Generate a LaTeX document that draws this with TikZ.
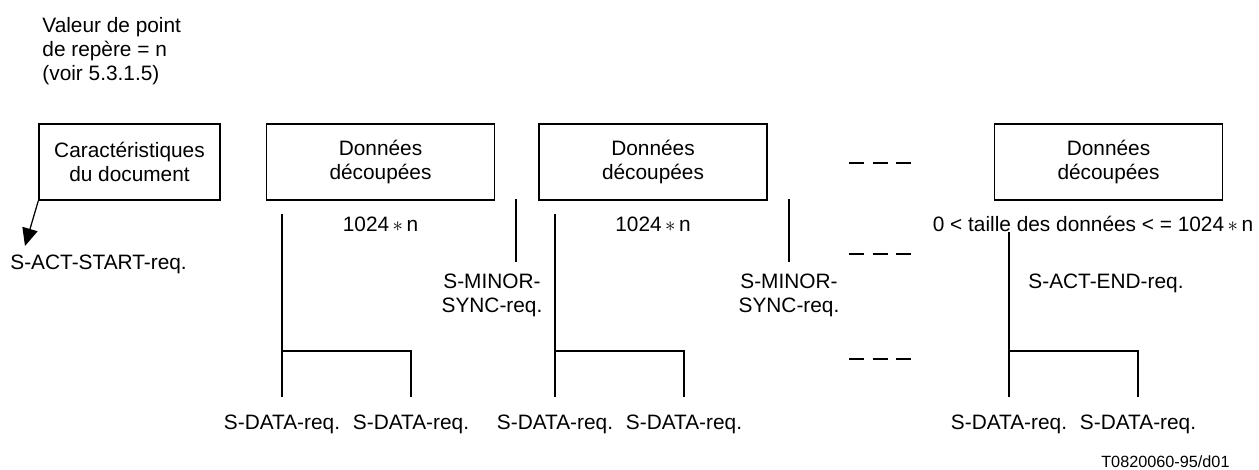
\documentclass[tikz,border=0pt]{standalone}
\usepackage{fontspec}
\setmainfont{Liberation Sans}
\usetikzlibrary{arrows.meta}

\newcommand{\px}{0.48pt}

\begin{document}
\begin{tikzpicture}[x=\px, y=-\px, font=\fontsize{10}{11.5}\selectfont]
    \tikzstyle{every node}=[inner sep=0pt]
    \tikzstyle{bloc}=[draw,line width=0.65pt,minimum width=228*\px,minimum height=76*\px,align=center]
    \tikzstyle{trait}=[line width=1pt]
    \tikzstyle{fin}=[line width=0.5pt]
    \tikzstyle{req}=[anchor=north,inner ysep=8.6pt]
    \tikzstyle{sync}=[anchor=north,inner ysep=5.5pt,align=center]
    \tikzstyle{tirets}=[line width=1pt,dash pattern=on 7.2pt off 4.1pt]

    \useasboundingbox (0,0) rectangle (1259,469);

    \node[anchor=north west,align=left] (repere) at (42,17) {Valeur de point\\de repère = n\\(voir 5.3.1.5)};

    \node[bloc,minimum width=181*\px] (doc) at (129.5,162) {Caractéristiques\\du document};
    \node[bloc] (don1) at (380.5,162) {Données\\découpées};
    \node[bloc] (don2) at (653,162) {Données\\découpées};
    \node[bloc] (don3) at (1108.5,162) {Données\\découpées};

    \node (taille1) at (380.5,224) {1024\,$\ast$\,n};
    \node (taille2) at (653,224) {1024\,$\ast$\,n};
    \node (taille3) at (1093,224) {0 < taille des données < = 1024\,$\ast$\,n};

    \node[anchor=west] (start) at (10,264) {S-ACT-START-req.};
    \node[sync] (sync1) at (492,262) {S-MINOR-\\SYNC-req.};
    \node[sync] (sync2) at (789,262) {S-MINOR-\\SYNC-req.};
    \node (actend) at (1106,283) {S-ACT-END-req.};

    \node[req] (d1) at (282,397) {S-DATA-req.};
    \node[req] (d2) at (411,397) {S-DATA-req.};
    \node[req] (d3) at (555,397) {S-DATA-req.};
    \node[req] (d4) at (684,397) {S-DATA-req.};
    \node[req] (d5) at (1009,397) {S-DATA-req.};
    \node[req] (d6) at (1138,397) {S-DATA-req.};

    \node[anchor=east,font=\fontsize{7.8}{9}\selectfont] (ref) at (1230,462) {T0820060-95/d01};

    \coordinate (pointe) at (25,246);
    \coordinate (h1) at (282,214);
    \coordinate (h2) at (555,214);
    \coordinate (b1) at (282,351);
    \coordinate (b2) at (555,351);
    \coordinate (b3) at (1009,351);
    \coordinate (s1) at (516,199);
    \coordinate (s2) at (789,199);

    \draw[line width=0.6pt,-{Triangle[length=8.5pt,width=7.5pt]}] (doc.south west) -- (pointe);

    \path   (h1)    edge[trait]     (d1.north)
            (h2)    edge[trait]     (d3.north)
            (taille3.south -| d5.north) edge[trait] (d5.north)
            (s1)    edge[trait]     (s1 |- sync1.north)
            (s2)    edge[trait]     (s2 |- sync2.north);

    \draw[fin] (b1) -| (d2.north);
    \draw[fin] (b2) -| (d4.north);
    \draw[fin] (b3) -| (d6.north);

    \foreach \y in {163,254,359}
        \draw[tirets] (849,\y) -- (911,\y);
\end{tikzpicture}
\end{document}
